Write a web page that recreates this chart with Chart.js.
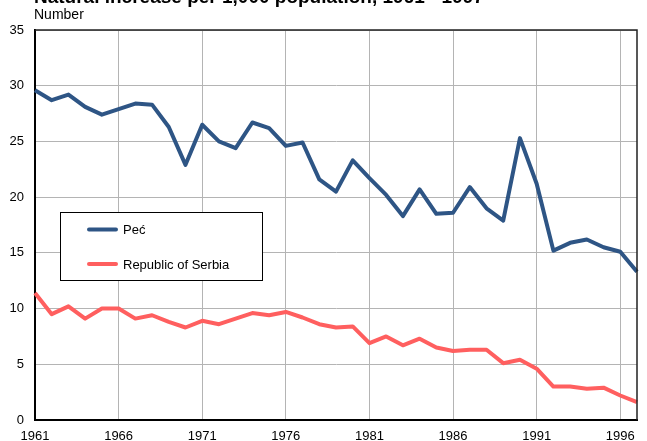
<!DOCTYPE html>
<html>
<head>
<meta charset="utf-8">
<script src="https://cdn.jsdelivr.net/npm/chart.js@4.4.1/dist/chart.umd.min.js"></script>
<style>
  html, body { margin: 0; padding: 0; background: #fff; }
  #wrap { position: relative; width: 647px; height: 441px; }
</style>
</head>
<body>
<div id="wrap"><canvas id="chart" width="647" height="441"></canvas></div>
<script>
const titleText = 'Natural increase per 1,000 population, 1961 - 1997';
const unitText = 'Number';

const years = [];
for (let y = 1961; y <= 1997; y++) years.push(String(y));

const pecValues = [
    29.6, 28.7, 29.2, 28.1, 27.4, 27.9, 28.4, 28.3, 26.3, 22.9,
    26.5, 25.0, 24.4, 26.7, 26.2, 24.6, 24.9, 21.6, 20.5, 23.3,
    21.7, 20.2, 18.3, 20.7, 18.5, 18.6, 20.9, 19.0, 17.9, 25.3,
    21.2, 15.2, 15.9, 16.2, 15.5, 15.1, 13.3
];
const serbiaValues = [
    11.4, 9.5, 10.2, 9.1, 10.0, 10.0, 9.1, 9.4, 8.8, 8.3,
    8.9, 8.6, 9.1, 9.6, 9.4, 9.7, 9.2, 8.6, 8.3, 8.4,
    6.9, 7.5, 6.7, 7.3, 6.5, 6.2, 6.3, 6.3, 5.1, 5.4,
    4.6, 3.0, 3.0, 2.8, 2.9, 2.2, 1.6
];
const seriesNames = ['Peć', 'Republic of Serbia'];
const seriesColors = ['#2e5585', '#ff5f5f'];

const FONT = '"Liberation Sans", Arial, sans-serif';

// title, unit label, frame and the boxed legend inside the plot
const decorations = {
    id: 'decorations',
    afterDraw(chart) {
        const ctx = chart.ctx;
        const a = chart.chartArea;
        ctx.save();
        ctx.fillStyle = '#000';
        ctx.textAlign = 'left';
        ctx.textBaseline = 'alphabetic';
        ctx.font = 'bold 19px ' + FONT;
        ctx.fillText(titleText, 34, 3);
        ctx.font = '14px ' + FONT;
        ctx.textBaseline = 'middle';
        ctx.fillText(unitText, 34, 15);

        // top and right edges of the frame
        ctx.strokeStyle = '#222';
        ctx.lineWidth = 1.5;
        ctx.beginPath();
        ctx.moveTo(a.left, a.top);
        ctx.lineTo(a.right, a.top);
        ctx.lineTo(a.right, a.bottom);
        ctx.stroke();

        // legend
        ctx.fillStyle = '#fff';
        ctx.fillRect(60.5, 212.5, 202, 68);
        ctx.strokeStyle = '#000';
        ctx.lineWidth = 1;
        ctx.strokeRect(60.5, 212.5, 202, 68);
        chart.data.datasets.forEach((ds, i) => {
            const y = 229.5 + i * 34.5;
            ctx.strokeStyle = ds.borderColor;
            ctx.lineWidth = 4;
            ctx.lineCap = 'round';
            ctx.beginPath();
            ctx.moveTo(89, y);
            ctx.lineTo(116, y);
            ctx.stroke();
            ctx.fillStyle = '#000';
            ctx.font = '13px ' + FONT;
            ctx.fillText(ds.label, 123, y + 1);
        });
        ctx.restore();
    }
};

new Chart(document.getElementById('chart'), {
    type: 'line',
    data: {
        labels: years,
        datasets: [
            { label: seriesNames[0], data: pecValues, borderColor: seriesColors[0] },
            { label: seriesNames[1], data: serbiaValues, borderColor: seriesColors[1] }
        ]
    },
    options: {
        responsive: false,
        animation: false,
        devicePixelRatio: 1,
        layout: { padding: { top: 30, right: 10, left: 0, bottom: 0 } },
        elements: {
            line: { borderWidth: 4, tension: 0, borderJoinStyle: 'round', borderCapStyle: 'butt' },
            point: { radius: 0 }
        },
        plugins: {
            legend: { display: false },
            title: { display: false },
            tooltip: { enabled: false }
        },
        scales: {
            x: {
                type: 'category',
                offset: false,
                afterFit(scale) { scale.height = 21; },
                border: { display: true, color: '#000', width: 2 },
                grid: {
                    drawTicks: false,
                    color: ctx => (ctx.index % 5 === 0 ? '#b4b4b4' : 'rgba(0,0,0,0)'),
                    lineWidth: 1
                },
                ticks: {
                    autoSkip: false,
                    maxRotation: 0,
                    padding: 9,
                    color: '#000',
                    font: { family: FONT, size: 13 },
                    callback(val, idx) { return idx % 5 === 0 ? this.getLabelForValue(val) : ''; }
                }
            },
            y: {
                min: 0,
                max: 35,
                afterFit(scale) { scale.width = 35; },
                border: { display: true, color: '#000', width: 2 },
                grid: { drawTicks: false, color: '#b4b4b4', lineWidth: 1 },
                ticks: {
                    stepSize: 5,
                    padding: 11,
                    color: '#000',
                    font: { family: FONT, size: 13 }
                }
            }
        }
    },
    plugins: [decorations]
});
</script>
</body>
</html>
